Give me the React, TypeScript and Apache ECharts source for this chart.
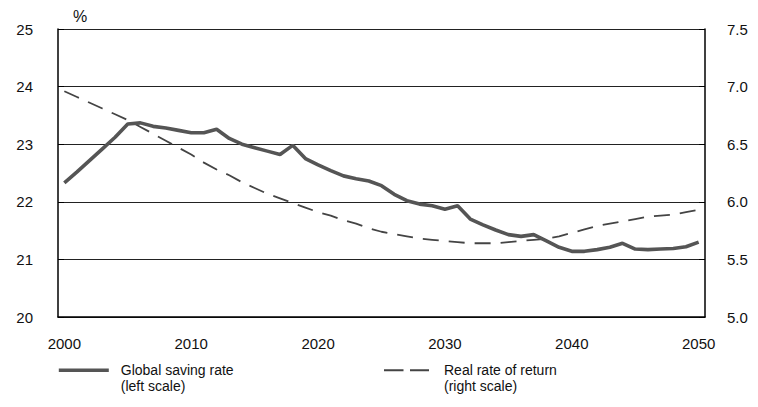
import React, { useEffect, useRef } from "react";
import * as echarts from "echarts";

const years: string[] = [];
for (let y = 2000; y <= 2050; y++) years.push(String(y));

const savingRate = [
  22.33, 22.52, 22.72, 22.92, 23.12, 23.35, 23.37, 23.31, 23.28, 23.24,
  23.2, 23.2, 23.26, 23.1, 23.0, 22.94, 22.88, 22.82, 22.98, 22.75,
  22.64, 22.54, 22.45, 22.4, 22.36, 22.28, 22.13, 22.02, 21.96, 21.93,
  21.87, 21.93, 21.7, 21.6, 21.51, 21.43, 21.4, 21.43, 21.32, 21.21,
  21.14, 21.14, 21.17, 21.21, 21.28, 21.18, 21.17, 21.18, 21.19, 21.22,
  21.3,
];

const realReturn = [
  6.96, 6.91, 6.86, 6.81, 6.76, 6.71, 6.65, 6.59, 6.53, 6.47,
  6.41, 6.34, 6.28, 6.23, 6.17, 6.12, 6.07, 6.03, 5.99, 5.95,
  5.91, 5.88, 5.84, 5.81, 5.77, 5.74, 5.72, 5.7, 5.68, 5.67,
  5.66, 5.65, 5.64, 5.64, 5.64, 5.65, 5.66, 5.67, 5.68, 5.7,
  5.73, 5.76, 5.79, 5.81, 5.83, 5.85, 5.87, 5.88, 5.89, 5.91,
  5.93,
];

const seriesNames = ["Global saving rate", "Real rate of return"];
const legendSub = ["(left scale)", "(right scale)"];

const FONT = "'Liberation Sans', Arial, Helvetica, sans-serif";

export default function App() {
  const ref = useRef<HTMLDivElement>(null);
  useEffect(() => {
    if (!ref.current) return;
    const chart = echarts.init(ref.current, undefined, { renderer: "svg" });
    const legendText = {
      fontFamily: FONT,
      fontSize: 14,
      color: "#111",
      lineHeight: 15.5,
    };
    chart.setOption({
      animation: false,
      textStyle: { fontFamily: FONT },
      title: {
        text: "%",
        left: 73,
        top: 8,
        padding: 0,
        textStyle: { fontFamily: FONT, fontSize: 16, fontWeight: "normal", color: "#111" },
      },
      grid: { left: 58, right: 53, top: 29, bottom: 90, containLabel: false },
      legend: [
        {
          data: [seriesNames[0]],
          left: 57,
          top: 347,
          padding: 0,
          itemWidth: 50,
          itemHeight: 14,
          itemStyle: { opacity: 0 },
          lineStyle: { width: 3.6 },
          formatter: (n: string) => "\n" + n + "\n" + legendSub[0],
          textStyle: { ...legendText, padding: [0, 0, 0, 7] },
        },
        {
          data: [seriesNames[1]],
          left: 383,
          top: 347,
          padding: 0,
          itemWidth: 45,
          itemHeight: 14,
          itemStyle: { opacity: 0 },
          lineStyle: { type: [19.5, 6.5], width: 2 },
          formatter: (n: string) => "\n" + n + "\n" + legendSub[1],
          textStyle: { ...legendText, padding: [0, 0, 0, 10] },
        },
      ],
      xAxis: {
        type: "category",
        data: years,
        boundaryGap: true,
        axisLine: { lineStyle: { color: "#000", width: 1.5 } },
        axisTick: {
          inside: true,
          length: 6,
          interval: (i: number) => i % 5 === 0,
          lineStyle: { color: "#000" },
        },
        axisLabel: {
          interval: (i: number) => i % 10 === 0,
          margin: 19,
          fontSize: 15,
          color: "#111",
          fontFamily: FONT,
        },
        splitLine: { show: false },
      },
      yAxis: [
        {
          type: "value",
          min: 20,
          max: 25,
          interval: 1,
          axisLine: { show: true, lineStyle: { color: "#000", width: 1.5 } },
          axisTick: { show: true, inside: true, length: 6, lineStyle: { color: "#000" } },
          axisLabel: { margin: 25, fontSize: 15, color: "#111", fontFamily: FONT },
          splitLine: { show: true, lineStyle: { color: "#222", width: 1 } },
        },
        {
          type: "value",
          min: 5,
          max: 7.5,
          interval: 0.5,
          position: "right",
          axisLine: { show: true, lineStyle: { color: "#000", width: 1.5 } },
          axisTick: { show: true, inside: true, length: 6, lineStyle: { color: "#000" } },
          axisLabel: {
            margin: 22,
            fontSize: 15,
            color: "#111",
            fontFamily: FONT,
            formatter: (v: number) => v.toFixed(1),
          },
          splitLine: { show: false },
        },
      ],
      series: [
        {
          name: seriesNames[0],
          type: "line",
          yAxisIndex: 0,
          data: savingRate,
          symbol: "none",
          lineStyle: { color: "#555", width: 3.6 },
          itemStyle: { color: "#555" },
          z: 3,
        },
        {
          name: seriesNames[1],
          type: "line",
          yAxisIndex: 1,
          data: realReturn,
          symbol: "none",
          smooth: false,
          lineStyle: { color: "#444", width: 1.8, type: [16, 10] },
          itemStyle: { color: "#444" },
          z: 2,
        },
      ],
    });
    return () => chart.dispose();
  }, []);
  return <div ref={ref} style={{ width: 758, height: 407, margin: -8 }} />;
}
